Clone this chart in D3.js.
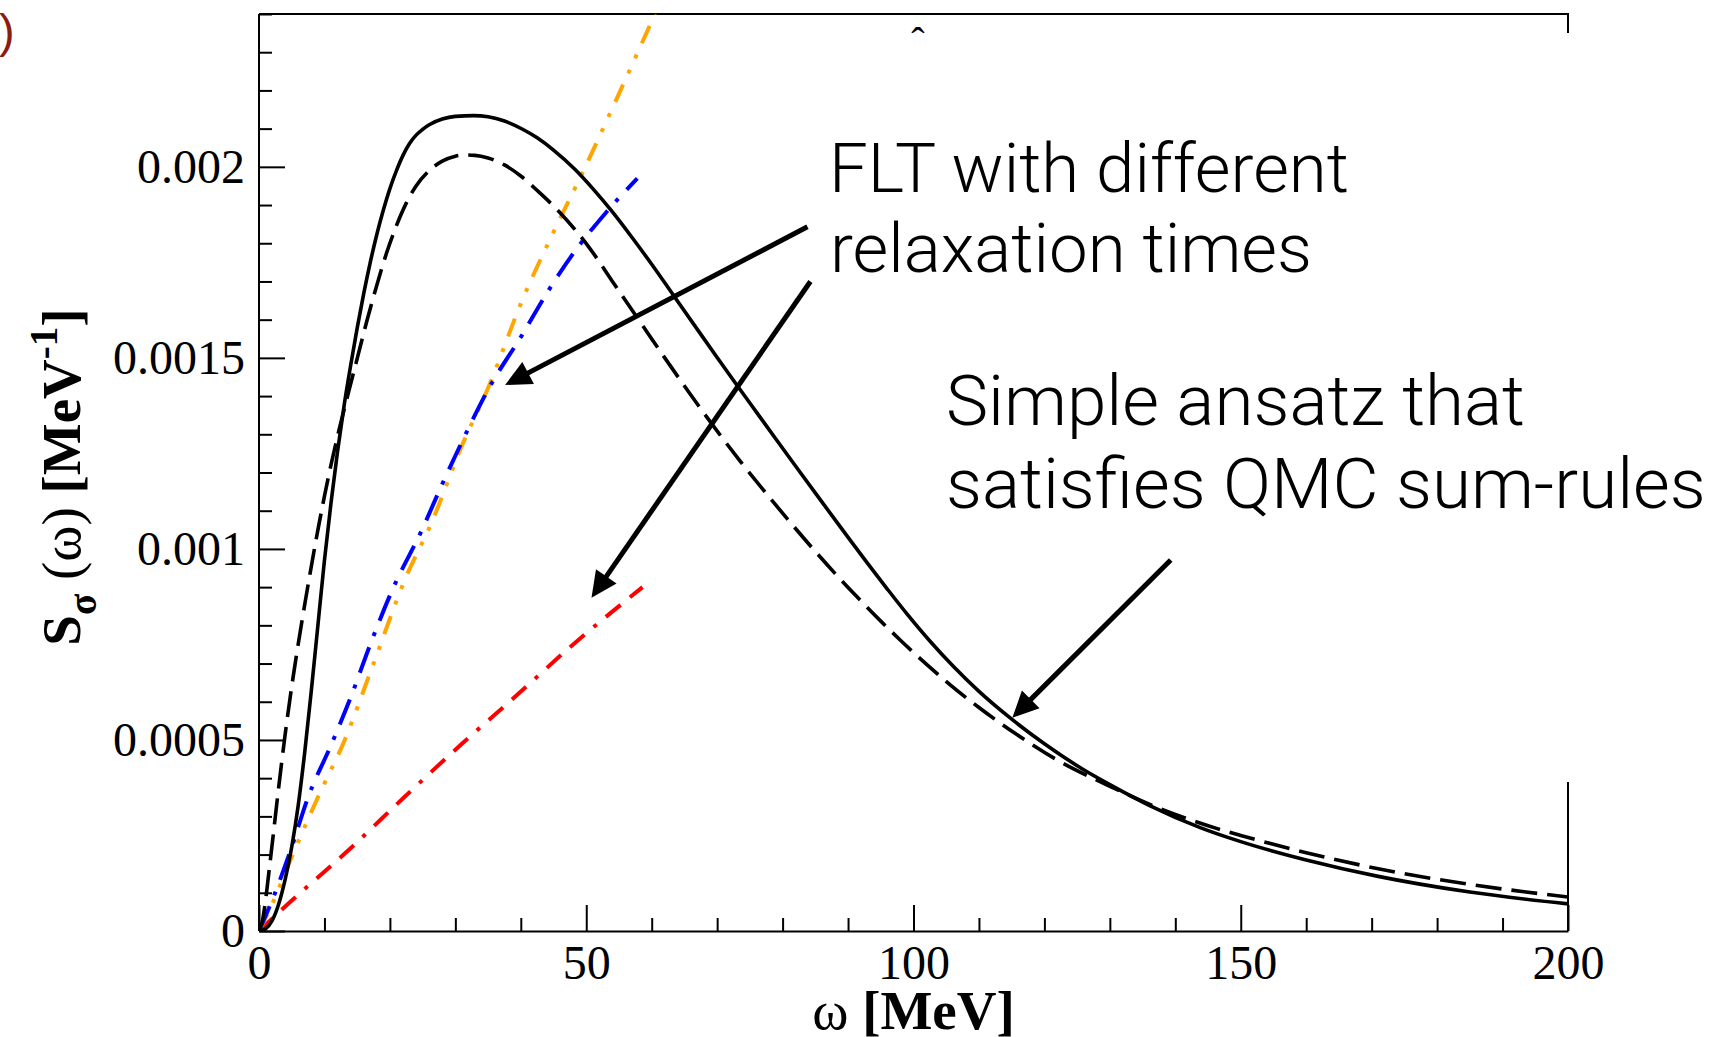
<!DOCTYPE html>
<html lang="en">
<head>
    <meta charset="UTF-8">
    <title>S_sigma(omega) spectral function</title>
    <script src="https://cdnjs.cloudflare.com/ajax/libs/d3/7.8.5/d3.min.js"></script>
    <style>
        body {
            margin: 0;
            padding: 0;
            background-color: white;
        }
        svg {
            display: block;
        }
        .tick text {
            font-family: "Liberation Serif", "Times New Roman", serif;
            font-size: 48px;
            fill: #000;
        }
        .axis line, .axis path {
            stroke: #000;
            stroke-width: 2;
        }
        .note {
            font-family: Roboto, "Liberation Sans", Arial, sans-serif;
            font-weight: 300;
            font-size: 69px;
            fill: #000;
        }
    </style>
</head>
<body>
    <div id="chart"></div>

    <script>
        // Data (omega in MeV, S in MeV^-1)
        const solidX = [0, 1, 2, 3, 4, 5, 6, 7, 8, 9, 10, 11, 12, 13, 14, 15, 16, 17, 18, 19, 20, 21, 22, 23, 24,
            25, 26, 28, 30, 32.8, 35, 37.5, 40.2, 42.5, 45, 48.3, 51, 54, 57, 60, 63.6, 67, 70, 73, 76, 79, 82.7,
            86, 89.5, 92.9, 96, 99, 102.6, 106, 110, 115.1, 120, 126, 130, 136, 143.9, 150, 160, 171, 185, 200];
        const solidY = [0, 0.000006, 0.000027, 0.00007, 0.000135, 0.00022, 0.00033, 0.00047, 0.00063, 0.0008, 0.00097,
            0.00112, 0.001255, 0.001375, 0.00148, 0.001578, 0.001668, 0.00175, 0.001823, 0.001887, 0.001943, 0.00199,
            0.00203, 0.002061, 0.002083, 0.002098, 0.00211, 0.002125, 0.002132, 0.002134, 0.002131, 0.00212, 0.002099,
            0.002076, 0.002044, 0.001993, 0.001943, 0.001882, 0.001815, 0.001745, 0.001657, 0.001574, 0.001501,
            0.001429, 0.001358, 0.001287, 0.0012, 0.001123, 0.001042, 0.000964, 0.000895, 0.00083, 0.000757, 0.000694,
            0.000627, 0.000553, 0.00049, 0.000422, 0.000383, 0.000329, 0.00027, 0.000234, 0.000186, 0.000143, 0.000102,
            0.000071];

        const dashedX = [0, 0.5, 1, 1.5, 2, 3, 4, 5, 6, 7, 8, 9, 10, 11, 12, 13.5, 15, 16.5, 18, 19.5, 21, 22.5, 24,
            26, 28, 30, 31.5, 33, 35, 37.5, 40, 42.7, 46, 50.4, 54, 58, 62, 65.6, 69.5, 73.6, 77.6, 81, 84.3, 88,
            91.4, 95, 98, 102, 105.7, 110, 115.8, 122, 129.6, 137, 146.4, 150, 160, 171, 185, 200];
        const dashedY = [0, 0.000025, 0.00008, 0.000152, 0.000225, 0.000375, 0.000515, 0.00064, 0.000752, 0.000856,
            0.000955, 0.00105, 0.001138, 0.00122, 0.001295, 0.001398, 0.001498, 0.001598, 0.00169, 0.001775, 0.001846,
            0.001905, 0.00195, 0.00199, 0.002015, 0.002028, 0.002031, 0.00203, 0.002023, 0.002005, 0.001976, 0.001935,
            0.00188, 0.00179, 0.0017, 0.0016, 0.0015, 0.001412, 0.00132, 0.001228, 0.001143, 0.001073, 0.001007,
            0.000936, 0.000874, 0.000811, 0.000761, 0.000698, 0.000643, 0.000585, 0.000514, 0.000447, 0.000382,
            0.000325, 0.000268, 0.00025, 0.000205, 0.000163, 0.000122, 0.000089];

        const blueX = [0, 2, 5, 7.5, 11.1, 14.2, 17, 20.3, 24.9, 28, 31, 35.1, 40.2, 44, 48.3, 53, 57.8];
        const blueY = [0, 0.00008, 0.00022, 0.00035, 0.00049, 0.00062, 0.00075, 0.00089, 0.00105, 0.00117, 0.00128,
            0.00142, 0.00156, 0.00167, 0.00178, 0.00188, 0.00197];

        const orangeX = [0, 2, 5, 9, 13.1, 17.5, 22.3, 26.4, 31, 35.1, 40.2, 45.3, 49.3, 54.7, 60.5];
        const orangeY = [0, 0.00007, 0.000194, 0.00035, 0.0005, 0.0007, 0.00092, 0.00107, 0.00127, 0.001425, 0.00165,
            0.00184, 0.00198, 0.00218, 0.0024];

        const redX = [0, 4.5, 13.7, 22.3, 31, 38.6, 48, 58.6];
        const redY = [0, 0.000072, 0.000212, 0.000352, 0.00049, 0.000605, 0.00075, 0.0009];

        const xMajorTicks = [0, 50, 100, 150, 200];
        const xTickLabels = ["0", "50", "100", "150", "200"];
        const yMajorTicks = [0, 0.0005, 0.001, 0.0015, 0.002];
        const yTickLabels = ["0", "0.0005", "0.001", "0.0015", "0.002"];

        // Arrows: [tailX, tailY, tipX, tipY] in data units
        const arrows = [
            [83.8, 0.001843, 37.6, 0.001429],
            [84.25, 0.0017, 50.8, 0.000872],
            [139.3, 0.000971, 115.1, 0.000558]
        ];

        const width = 1722;
        const height = 1037;
        const plotL = 259, plotR = 1568, plotT = 14, plotB = 931;

        const x = d3.scaleLinear().domain([0, 200]).range([plotL, plotR]);
        const y = d3.scaleLinear().domain([0, 0.0024]).range([plotB, plotT]);

        const svg = d3.select("#chart")
            .append("svg")
            .attr("width", width)
            .attr("height", height)
            .style("background", "white");

        // stray bits of the slide behind the figure
        svg.append("text")
            .attr("x", -1)
            .attr("y", 47)
            .style("font-family", "'Liberation Sans', Arial, sans-serif")
            .style("font-size", "47px")
            .style("fill", "#8e1b0f")
            .text(")");
        svg.append("text")
            .attr("x", 918)
            .attr("y", 55)
            .attr("text-anchor", "middle")
            .style("font-family", "'Liberation Serif', serif")
            .style("font-size", "40px")
            .text("\u02C6");

        // frame top + right
        svg.append("path")
            .attr("d", `M${plotL},${plotT}H${plotR}V${plotB}`)
            .attr("fill", "none")
            .attr("stroke", "#000")
            .attr("stroke-width", 2);

        // white box that hides part of the right border
        svg.append("rect")
            .attr("x", 880).attr("y", 33)
            .attr("width", 700).attr("height", 749)
            .attr("fill", "white");

        svg.append("clipPath").attr("id", "plot")
            .append("rect")
            .attr("x", plotL).attr("y", plotT)
            .attr("width", plotR - plotL).attr("height", plotB - plotT);

        const line = d3.line()
            .x(d => x(d[0]))
            .y(d => y(d[1]))
            .curve(d3.curveMonotoneX);

        const series = [
            { xs: redX, ys: redY, color: "#ff0000", width: 4, dash: "19,12,19,12,4,12" },
            { xs: orangeX, ys: orangeY, color: "#ffa500", width: 4, dash: "19,12.5,4,12.5,4,12.5" },
            { xs: blueX, ys: blueY, color: "#0000ff", width: 4, dash: "27,12,4,12.5" },
            { xs: dashedX, ys: dashedY, color: "#000", width: 3.6, dash: "26,10" },
            { xs: solidX, ys: solidY, color: "#000", width: 3.6, dash: null }
        ];

        const curves = svg.append("g").attr("clip-path", "url(#plot)");
        series.forEach(s => {
            curves.append("path")
                .datum(s.xs.map((v, i) => [v, s.ys[i]]))
                .attr("d", line)
                .attr("fill", "none")
                .attr("stroke", s.color)
                .attr("stroke-width", s.width)
                .attr("stroke-dasharray", s.dash);
        });

        // axes, ticks pointing inward
        const xMinor = d3.range(0, 201, 10).filter(v => v % 50 !== 0);
        const yMinor = d3.range(0, 25).map(i => i * 0.0001).filter((v, i) => i % 5 !== 0);

        svg.append("g").attr("class", "axis")
            .attr("transform", `translate(0,${plotB})`)
            .call(d3.axisBottom(x).tickValues(xMinor).tickSize(-13).tickFormat(""))
            .call(g => g.select(".domain").remove());
        svg.append("g").attr("class", "axis")
            .attr("transform", `translate(0,${plotB})`)
            .call(d3.axisBottom(x).tickValues(xMajorTicks).tickSizeInner(-26).tickSizeOuter(0).tickPadding(14)
                .tickFormat((d, i) => xTickLabels[i]));

        svg.append("g").attr("class", "axis")
            .attr("transform", `translate(${plotL},0)`)
            .call(d3.axisLeft(y).tickValues(yMinor).tickSize(-13).tickFormat(""))
            .call(g => g.select(".domain").remove());
        svg.append("g").attr("class", "axis")
            .attr("transform", `translate(${plotL},0)`)
            .call(d3.axisLeft(y).tickValues(yMajorTicks).tickSizeInner(-26).tickSizeOuter(0).tickPadding(14)
                .tickFormat((d, i) => yTickLabels[i]))
            .call(g => g.select(".domain").attr("d", `M0,${plotB}V${plotT}`));

        // axis titles
        const xl = svg.append("text")
            .attr("x", (plotL + plotR) / 2)
            .attr("y", 1029)
            .attr("text-anchor", "middle")
            .style("font-family", "'Liberation Serif', serif")
            .style("font-size", "55px");
        xl.append("tspan").text("\u03C9 ");
        xl.append("tspan").style("font-weight", "bold").text("[MeV]");

        const yl = svg.append("text")
            .attr("transform", "translate(80,477) rotate(-90)")
            .attr("text-anchor", "middle")
            .style("font-family", "'Liberation Serif', serif")
            .style("font-size", "55px");
        yl.append("tspan").style("font-weight", "bold").text("S");
        yl.append("tspan").style("font-weight", "bold").style("font-size", "39px").attr("dy", 16).text("\u03C3");
        yl.append("tspan").attr("dy", -16).text(" (\u03C9) ");
        yl.append("tspan").style("font-weight", "bold").text("[MeV");
        yl.append("tspan").style("font-weight", "bold").style("font-size", "39px").attr("dy", -23).text("-1");
        yl.append("tspan").style("font-weight", "bold").attr("dy", 23).text("]");

        // annotations
        const notes = svg.append("g").attr("class", "note");
        notes.append("text").attr("x", 829).attr("y", 192).text("FLT with different");
        notes.append("text").attr("x", 830).attr("y", 272).text("relaxation times");
        notes.append("text").attr("x", 946).attr("y", 425).style("font-size", "71px").text("Simple ansatz that");
        notes.append("text").attr("x", 946).attr("y", 508).style("font-size", "71px").text("satisfies QMC sum-rules");

        const headLen = 26, headHalf = 12.5;
        arrows.forEach(a => {
            const x0 = x(a[0]), y0 = y(a[1]), x1 = x(a[2]), y1 = y(a[3]);
            const len = Math.hypot(x1 - x0, y1 - y0);
            const ux = (x1 - x0) / len, uy = (y1 - y0) / len;
            const bx = x1 - ux * headLen, by = y1 - uy * headLen;
            svg.append("line")
                .attr("x1", x0).attr("y1", y0)
                .attr("x2", bx + ux * 2).attr("y2", by + uy * 2)
                .attr("stroke", "#000")
                .attr("stroke-width", 5);
            svg.append("path")
                .attr("d", `M${x1},${y1}L${bx - uy * headHalf},${by + ux * headHalf}L${bx + uy * headHalf},${by - ux * headHalf}Z`)
                .attr("fill", "#000");
        });
    </script>
</body>
</html>
